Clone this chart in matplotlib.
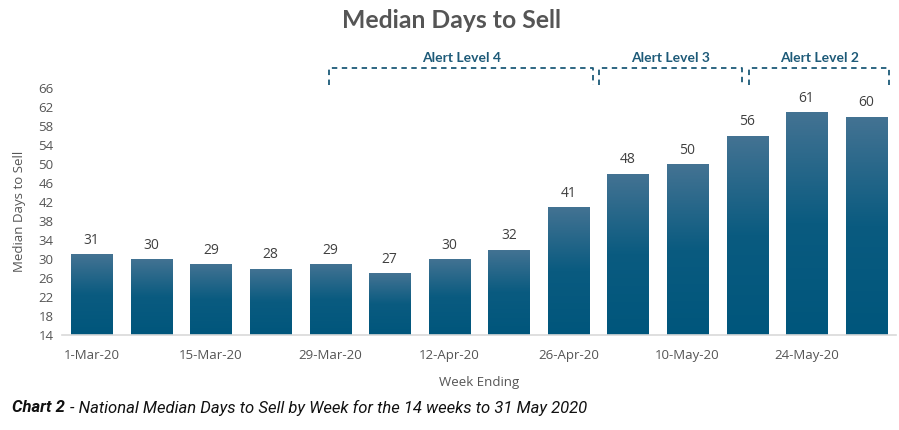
import matplotlib
matplotlib.use("Agg")
import matplotlib.pyplot as plt
import numpy as np
from matplotlib.colors import LinearSegmentedColormap

weeks = ["1-Mar-20", "8-Mar-20", "15-Mar-20", "22-Mar-20", "29-Mar-20", "5-Apr-20",
         "12-Apr-20", "19-Apr-20", "26-Apr-20", "3-May-20", "10-May-20", "17-May-20",
         "24-May-20", "31-May-20"]
days = [31, 30, 29, 28, 29, 27, 30, 32, 41, 48, 50, 56, 61, 60]
yticks = list(range(14, 67, 4))
alert_labels = ["Alert Level 4", "Alert Level 3", "Alert Level 2"]
alert_spans = [(3.98, 8.42), (8.52, 10.92), (11.04, 13.39)]

W, H = 899, 430
fig = plt.figure(figsize=(W / 100, H / 100), dpi=100)
x0, x1 = 62 / W, 896 / W
y0, y1 = (H - 335) / H, (H - 88) / H
ax = fig.add_axes([x0, y0, x1 - x0, y1 - y0])

x = np.arange(len(days))
bw = 0.69
bars = ax.bar(x, [d - 14 for d in days], bottom=14, width=bw, color="none", edgecolor="none")
cmap = LinearSegmentedColormap.from_list("g", ["#00567c", "#0a5b80", "#447393"])
grad = np.linspace(0, 1, 256).reshape(-1, 1)
for b, d in zip(bars, days):
    xl = b.get_x()
    im = ax.imshow(grad, extent=[xl, xl + bw, 14, d], origin="lower", cmap=cmap,
                   aspect="auto", zorder=2)
    im.set_clip_path(b)
    ax.text(b.get_x() + bw / 2, d + 1.3, str(d), ha="center", va="bottom",
            fontsize=10, color="#404040", family="Open Sans")

ax.set_xlim(-0.5, len(days) - 0.5)
ax.set_ylim(14, 66)
ax.set_yticks(yticks)
ax.set_yticklabels([str(t) for t in yticks], fontsize=9.5, color="#555555", family="Open Sans")
ax.set_xticks(x[::2])
ax.set_xticklabels(weeks[::2], fontsize=9.5, color="#555555", family="Open Sans")
ax.tick_params(axis="both", length=0, pad=6)
ax.tick_params(axis="x", pad=10)
for s in ["top", "right", "left"]:
    ax.spines[s].set_visible(False)
ax.spines["bottom"].set_color("#d9d9d9")
ax.spines["bottom"].set_linewidth(1.2)

ax.set_xlabel("Week Ending", fontsize=9.5, color="#555555", family="Open Sans", labelpad=10)
ax.set_ylabel("Median Days to Sell", fontsize=9.5, color="#555555", family="Open Sans", labelpad=9)

fig.text(451 / W, 1 - 20 / H, "Median Days to Sell", ha="center", va="center",
         fontsize=17.8, fontweight="bold", color="#555555", family="Lato")

# alert brackets (in data x, figure y)
teal = "#1d5a78"
trans = matplotlib.transforms.blended_transform_factory(ax.transData, fig.transFigure)
ytop = 1 - 68 / H
ybot = 1 - 85 / H
for lab, (a, b) in zip(alert_labels, alert_spans):
    ax.plot([a, a, b, b], [ybot, ytop, ytop, ybot], transform=trans, clip_on=False,
            color=teal, lw=1.3, ls=(0, (3, 2.5)))
    ax.text((a + b) / 2, 1 - 58 / H, lab, transform=trans, ha="center", va="center",
            fontsize=10, fontweight="bold", color=teal, family="Lato")

fig.text(12 / W, 1 - 408 / H, "Chart 2", ha="left", va="center", fontsize=12,
         fontstyle="italic", fontweight="bold", color="#111111", family="Roboto")
fig.text(70 / W, 1 - 408 / H, "- National Median Days to Sell by Week for the 14 weeks to 31 May 2020",
         ha="left", va="center", fontsize=12, fontstyle="italic", color="#111111", family="Roboto")

fig.savefig("out.png", dpi=100)
